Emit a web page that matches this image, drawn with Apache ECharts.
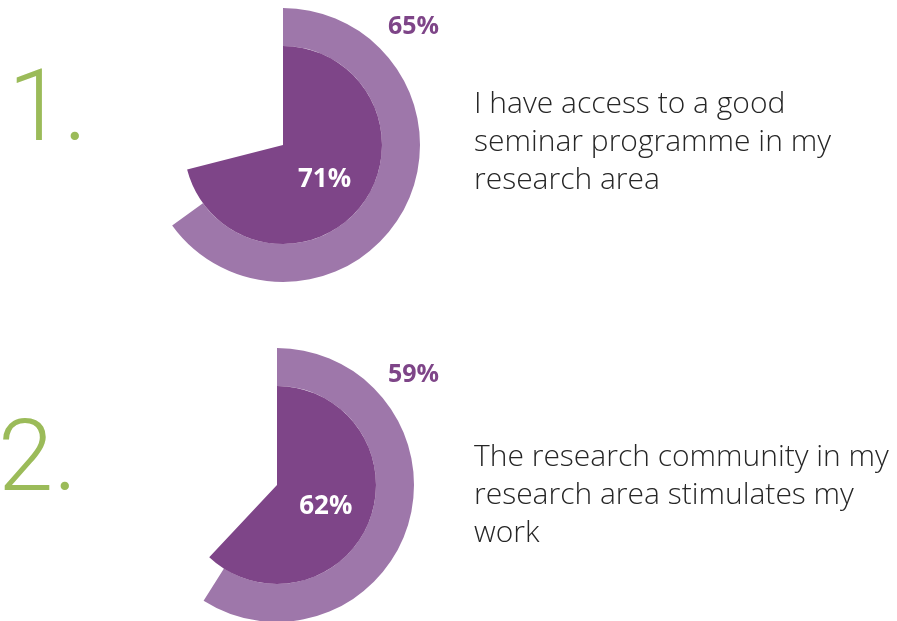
<!DOCTYPE html>
<html>
<head>
<meta charset="utf-8">
<script src="https://cdn.jsdelivr.net/npm/echarts@6/dist/echarts.min.js"></script>
<style>
  html, body { margin: 0; padding: 0; background: #ffffff; }
  #chart { width: 897px; height: 621px; }
</style>
</head>
<body>
<div id="chart"></div>
<script>
// Survey items: number, statement, and two agreement shares per item
const itemNumbers = ['1.', '2.'];
const statements = [
  'I have access to a good\nseminar programme in my\nresearch area',
  'The research community in my\nresearch area stimulates my\nwork'
];
const outerValues = [65, 59];   // outer ring
const innerValues = [71, 62];   // inner pie

const OUTER_COLOR = '#9e77aa';
const INNER_COLOR = '#7e4588';
const GREEN = '#9bbb59';

// Layout of each block
const centers = [[283, 145], [277, 485]];
const outerLabelPos = [[388, 14], [388, 362]];
const numberPos = [[8, 65], [-2, 415]];
const statementPos = [[474, 85], [474, 438]];

const chart = echarts.init(document.getElementById('chart'), null, { renderer: 'canvas' });

const series = [];
const graphics = [];

centers.forEach((c, i) => {
  series.push({
    type: 'pie',
    center: c,
    radius: [99, 137],
    startAngle: 90,
    clockwise: true,
    silent: true,
    label: { show: false },
    labelLine: { show: false },
    data: [
      { value: outerValues[i], itemStyle: { color: OUTER_COLOR } },
      { value: 100 - outerValues[i], itemStyle: { color: 'rgba(0,0,0,0)' } }
    ]
  });
  series.push({
    type: 'pie',
    center: c,
    radius: [0, 99],
    startAngle: 90,
    clockwise: true,
    silent: true,
    labelLine: { show: false },
    data: [
      {
        value: innerValues[i],
        itemStyle: { color: INNER_COLOR },
        label: {
          show: true,
          position: 'inside',
          formatter: innerValues[i] + '%',
          color: '#ffffff',
          fontFamily: 'Open Sans',
          fontWeight: 'bold',
          fontSize: 26,
          offset: [0, 2]
        }
      },
      { value: 100 - innerValues[i], itemStyle: { color: 'rgba(0,0,0,0)' }, label: { show: false } }
    ]
  });

  // Outer ring value
  graphics.push({
    type: 'text',
    left: outerLabelPos[i][0],
    top: outerLabelPos[i][1],
    style: {
      text: outerValues[i] + '%',
      fill: INNER_COLOR,
      font: 'bold 25px "Open Sans"'
    }
  });

  // Big green item number
  graphics.push({
    type: 'text', left: numberPos[i][0], top: numberPos[i][1],
    style: { text: itemNumbers[i], fill: GREEN, font: '300 100px Roboto' }
  });

  // Statement
  graphics.push({
    type: 'text', left: statementPos[i][0], top: statementPos[i][1],
    style: { text: statements[i], fill: '#262626', font: '300 30px "Open Sans"', lineHeight: 38 }
  });
});

chart.setOption({
  animation: false,
  backgroundColor: '#ffffff',
  series: series,
  graphic: graphics
});
</script>
</body>
</html>
